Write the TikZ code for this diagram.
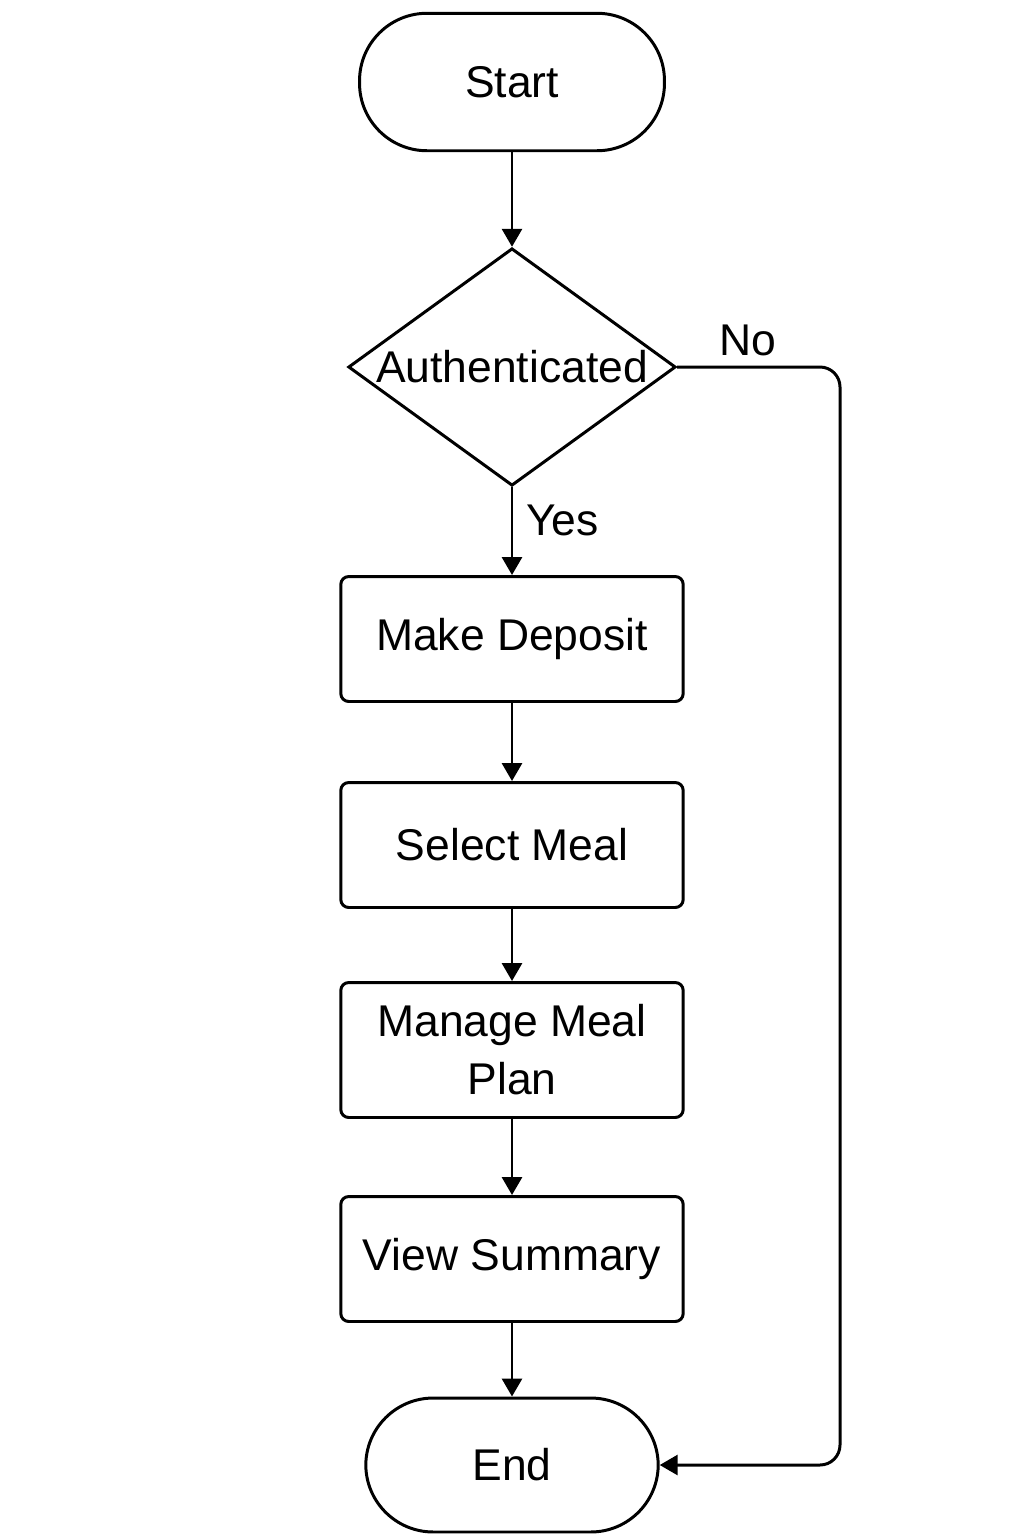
\documentclass[tikz,border=0pt]{standalone}
\usepackage{fontspec}
\setmainfont{Liberation Sans}
\usepackage{tikz}
\usetikzlibrary{shapes.geometric, positioning, arrows.meta}

\begin{document}
\begin{tikzpicture}[x=0.02cm, y=-0.02cm, line width=1.7pt,
  every node/.style={font=\fontsize{25.3}{33}\selectfont},
  terminal/.style={draw, rectangle, rounded corners=1.35cm, minimum width=6.1cm, minimum height=2.75cm},
  decision/.style={draw, diamond, inner sep=0pt, minimum width=6.55cm, minimum height=4.75cm},
  process/.style={draw, rectangle, rounded corners=0.16cm, minimum width=6.85cm, minimum height=2.5cm, align=center},
  arr/.style={-{Triangle[width=0.4cm,length=0.36cm]}}]

\useasboundingbox (0,0) rectangle (1024,1536);

\node[terminal] (start) at (512,82) {Start};
\node[decision] (auth) at (512,367) {\makebox[0pt]{Authenticated}};
\node[process] (deposit) at (512,639) {Make Deposit};
\node[process] (select) at (512,845) {Select Meal};
\node[process, minimum height=2.7cm] (manage) at (512,1050) {Manage Meal\\Plan};
\node[process] (summary) at (512,1259) {View Summary};
\node[terminal, minimum width=5.85cm, minimum height=2.68cm] (end) at (512,1465) {End};

\draw[arr] (start) -- (auth);
\draw[arr] (auth) -- (deposit) node[pos=0.38, right=4pt] (yes) {Yes};
\draw[arr] (deposit) -- (select);
\draw[arr] (select) -- (manage);
\draw[arr] (manage) -- (summary);
\draw[arr] (summary) -- (end);

% the No branch runs down the right side
\coordinate (turn) at (840,367);
\draw[arr, rounded corners=0.4cm] (auth.east) -- (turn) |- (end.east);
\node (no) at (748,340) {No};

\end{tikzpicture}
\end{document}
